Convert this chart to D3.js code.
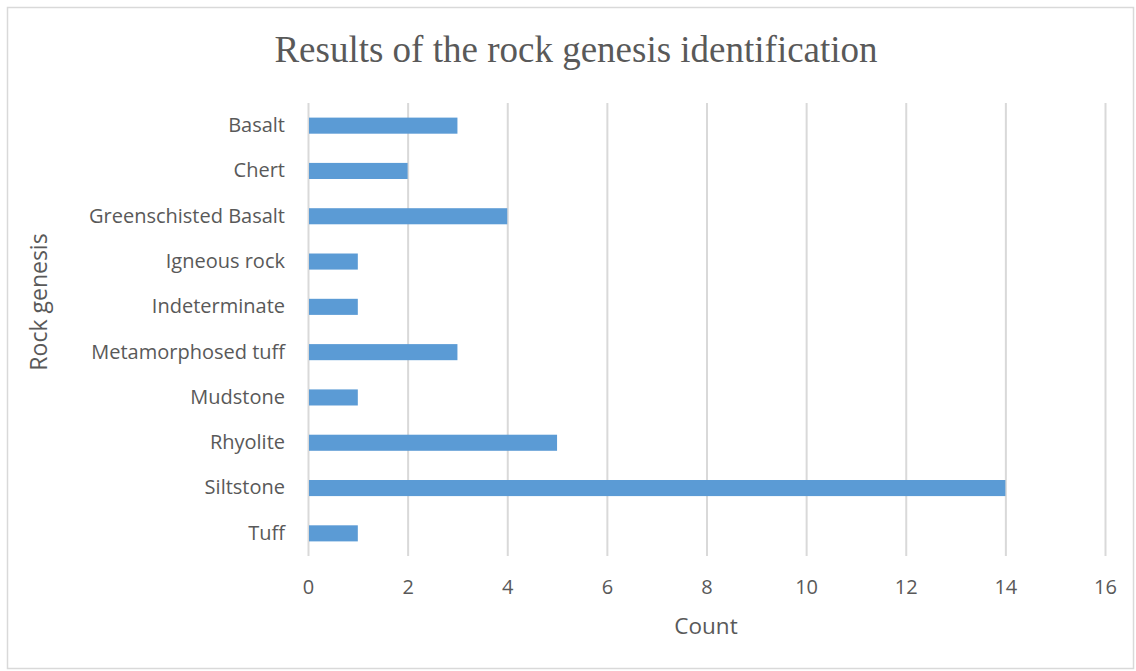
<!DOCTYPE html>
<html>
<head>
<meta charset="utf-8">
<script src="https://cdn.jsdelivr.net/npm/d3@7"></script>
<style>
  html, body { margin: 0; padding: 0; background: #fff; }
  svg { display: block; }
</style>
</head>
<body>
<svg id="chart" width="1136" height="671"></svg>
<script>
// Rock genesis counts
const categories = ["Basalt", "Chert", "Greenschisted Basalt", "Igneous rock", "Indeterminate",
  "Metamorphosed tuff", "Mudstone", "Rhyolite", "Siltstone", "Tuff"];
const counts = [3, 2, 4, 1, 1, 3, 1, 5, 14, 1];
const xTicks = [0, 2, 4, 6, 8, 10, 12, 14, 16];

const W = 1136, H = 671;
const margin = { left: 308, right: 31, top: 103, bottom: 115 };
const svg = d3.select("#chart");
const textColor = "#595959";
const uiFont = "'Open Sans', 'DejaVu Sans', sans-serif";

// chart frame
svg.append("rect")
  .attr("x", 7.5).attr("y", 7.5)
  .attr("width", W - 10).attr("height", H - 10)
  .attr("fill", "#fff").attr("stroke", "#d9d9d9").attr("stroke-width", 1.5);

const x = d3.scaleLinear().domain([0, 16]).range([margin.left, W - margin.right]);
const y = d3.scaleBand().domain(categories)
  .range([margin.top, H - margin.bottom]).paddingInner(0.645).paddingOuter(0.3225);

// vertical gridlines and count ticks
const xAxis = d3.axisBottom(x).tickValues(xTicks).tickSize(-(H - margin.bottom - margin.top)).tickPadding(24);
const gx = svg.append("g").attr("transform", `translate(0,${H - margin.bottom})`).call(xAxis);
gx.select(".domain").remove();
gx.selectAll(".tick line").attr("stroke", "#d9d9d9").attr("stroke-width", 2);
gx.selectAll(".tick text").attr("fill", textColor)
  .style("font-family", uiFont).style("font-size", "20px");

// bars
svg.append("g").selectAll("rect").data(categories).join("rect")
  .attr("x", x(0) + 1)
  .attr("y", d => y(d))
  .attr("width", (d, i) => x(counts[i]) - x(0) - 1)
  .attr("height", y.bandwidth())
  .attr("fill", "#5b9bd5");

// category labels
const yAxis = d3.axisLeft(y).tickSize(0).tickPadding(23);
const gy = svg.append("g").attr("transform", `translate(${margin.left},0)`).call(yAxis);
gy.select(".domain").remove();
gy.selectAll(".tick text").attr("fill", textColor)
  .style("font-family", uiFont).style("font-size", "20px");

// title
svg.append("text")
  .attr("x", 576).attr("y", 62)
  .attr("text-anchor", "middle")
  .attr("fill", textColor)
  .style("font-family", "'Liberation Serif', 'Times New Roman', serif")
  .style("font-size", "37px")
  .text("Results of the rock genesis identification");

// axis titles
svg.append("text")
  .attr("x", 706).attr("y", 634)
  .attr("text-anchor", "middle")
  .attr("fill", textColor)
  .style("font-family", uiFont).style("font-size", "22.5px")
  .text("Count");

svg.append("text")
  .attr("transform", "translate(47,302) rotate(-90)")
  .attr("text-anchor", "middle")
  .attr("fill", textColor)
  .style("font-family", uiFont).style("font-size", "23px")
  .text("Rock genesis");
</script>
</body>
</html>
